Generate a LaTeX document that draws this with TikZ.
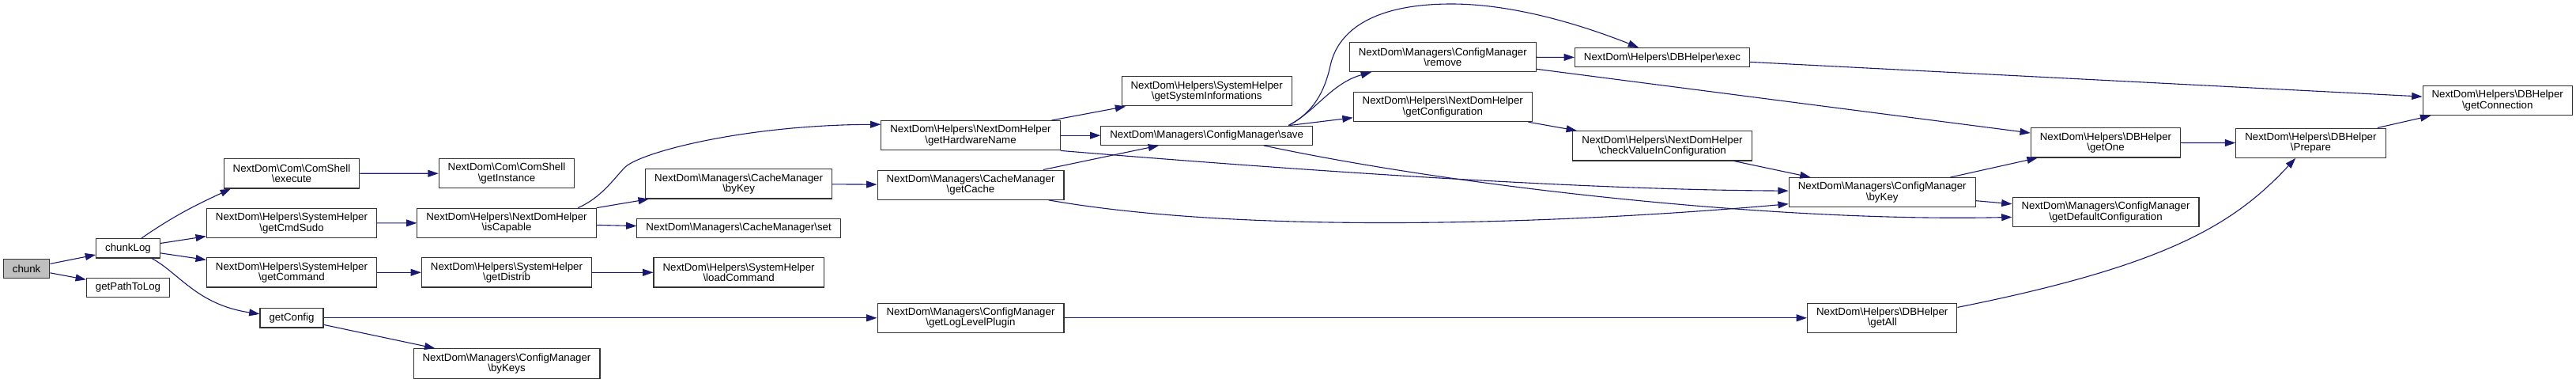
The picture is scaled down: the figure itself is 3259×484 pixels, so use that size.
\documentclass[tikz,border=0pt]{standalone}
\usepackage{fontspec}
\setmainfont{Liberation Sans}
\usepackage{tikz}
\usetikzlibrary{arrows.meta}
\definecolor{edgeblue}{RGB}{25,25,112}
\definecolor{rootgray}{RGB}{191,191,191}
\newcommand{\bsl}{\textbackslash}

\begin{document}
\begin{tikzpicture}[x=1pt,y=-1pt,
    fn/.style={draw=black!80,fill=white,line width=1.1pt,
      font=\fontsize{13.3}{13.3}\selectfont,align=center,
      inner xsep=11.5pt,inner ysep=0pt,minimum height=37.3pt},
    fnone/.style={fn,minimum height=24.3pt},
    call/.style={draw=edgeblue,line width=1.1pt,
      -{Triangle[length=13.3pt,width=8.9pt]}}
  ]
    \useasboundingbox (0,0) rectangle (3259,484);

    \node[fnone,fill=rootgray] (chunk) at (33.6,339.3) {chunk};
    \node[fnone] (chunkLog) at (162,313.8) {chunkLog};
    \node[fnone] (getPathToLog) at (162,363.2) {getPathToLog};

    \node[fn] (comExecute) at (369,219.3) {NextDom\bsl Com\bsl ComShell\\\bsl execute};
    \node[fn] (getCmdSudo) at (369,282) {NextDom\bsl Helpers\bsl SystemHelper\\\bsl getCmdSudo};
    \node[fn] (getCommand) at (369,344.3) {NextDom\bsl Helpers\bsl SystemHelper\\\bsl getCommand};
    \node[fnone] (getConfig) at (369,401.8) {getConfig};

    \node[fn] (getInstance) at (641,219.2) {NextDom\bsl Com\bsl ComShell\\\bsl getInstance};
    \node[fn] (isCapable) at (641,281.8) {NextDom\bsl Helpers\bsl NextDomHelper\\\bsl isCapable};
    \node[fn] (getDistrib) at (641,344.3) {NextDom\bsl Helpers\bsl SystemHelper\\\bsl getDistrib};
    \node[fn] (byKeys) at (641,459.4) {NextDom\bsl Managers\bsl ConfigManager\\\bsl byKeys};

    \node[fn] (cacheByKey) at (934.6,232.3) {NextDom\bsl Managers\bsl CacheManager\\\bsl byKey};
    \node[fnone] (cacheSet) at (934.6,288.5) {NextDom\bsl Managers\bsl CacheManager\bsl set};
    \node[fn] (loadCommand) at (934.6,344.3) {NextDom\bsl Helpers\bsl SystemHelper\\\bsl loadCommand};

    \node[fn] (getHardware) at (1228,171.2) {NextDom\bsl Helpers\bsl NextDomHelper\\\bsl getHardwareName};
    \node[fn] (getCache) at (1228,233.7) {NextDom\bsl Managers\bsl CacheManager\\\bsl getCache};
    \node[fn] (getLogLevel) at (1228,401.8) {NextDom\bsl Managers\bsl ConfigManager\\\bsl getLogLevelPlugin};

    \node[fn] (sysInfo) at (1526.7,115.3) {NextDom\bsl Helpers\bsl SystemHelper\\\bsl getSystemInformations};
    \node[fnone] (save) at (1526.7,171.2) {NextDom\bsl Managers\bsl ConfigManager\bsl save};

    \node[fn] (remove) at (1825.3,72) {NextDom\bsl Managers\bsl ConfigManager\\\bsl remove};
    \node[fn] (getConfiguration) at (1825.3,135) {NextDom\bsl Helpers\bsl NextDomHelper\\\bsl getConfiguration};

    \node[fnone] (dbExec) at (2103,72.7) {NextDom\bsl Helpers\bsl DBHelper\bsl exec};
    \node[fn] (checkValue) at (2103,184.3) {NextDom\bsl Helpers\bsl NextDomHelper\\\bsl checkValueInConfiguration};

    \node[fn] (cfgByKey) at (2381.2,243.2) {NextDom\bsl Managers\bsl ConfigManager\\\bsl byKey};
    \node[fn] (getAll) at (2381.2,401.8) {NextDom\bsl Helpers\bsl DBHelper\\\bsl getAll};

    \node[fn] (getOne) at (2664,180.3) {NextDom\bsl Helpers\bsl DBHelper\\\bsl getOne};
    \node[fn] (getDefault) at (2664,268.2) {NextDom\bsl Managers\bsl ConfigManager\\\bsl getDefaultConfiguration};

    \node[fn] (prepare) at (2923.4,180.7) {NextDom\bsl Helpers\bsl DBHelper\\\bsl Prepare};
    \node[fn] (getConnection) at (3159.7,127) {NextDom\bsl Helpers\bsl DBHelper\\\bsl getConnection};

    \draw[call] (chunk) -- (chunkLog);
    \draw[call] (chunk) -- (getPathToLog);
    \draw[call] (chunkLog.37) .. controls (219.9,272.8) and (246.6,259.7) .. (comExecute.194);
    \draw[call] (chunkLog) -- (getCmdSudo);
    \draw[call] (chunkLog) -- (getCommand);
    \draw[call] (chunkLog.-23) .. controls (226,344.5) and (249,385) .. (getConfig.173);
    \draw[call] (comExecute) -- (getInstance);
    \draw[call] (getCmdSudo) -- (isCapable);
    \draw[call] (getCommand) -- (getDistrib);
    \draw[call] (getConfig) -- (getLogLevel);
    \draw[call] (getConfig) -- (byKeys);
    \draw[call] (isCapable.12) .. controls (760,250) and (775,228) .. (790,212)
      .. controls (808,193) and (940,158) .. (getHardware.173);
    \draw[call] (isCapable) -- (cacheByKey);
    \draw[call] (isCapable) -- (cacheSet);
    \draw[call] (getDistrib) -- (loadCommand);
    \draw[call] (cacheByKey) -- (getCache);
    \draw[call] (getHardware) -- (sysInfo);
    \draw[call] (getHardware) -- (save);
    \draw[call] (getHardware.south east) .. controls (1640,215) and (2000,240) .. (cfgByKey.179);
    \draw[call] (getCache) -- (save);
    \draw[call] (getCache.-11) .. controls (1573,296) and (1964,284) .. (cfgByKey.187);
    \draw[call] (getLogLevel) -- (getAll);
    \draw[call] (save.7) .. controls (1662,142) and (1676,115) .. (1683,83)
      .. controls (1693,37) and (1740,5) .. (1836,5)
      .. controls (1920,5) and (2010,35) .. (dbExec.157);
    \draw[call] (save.7) .. controls (1665,140) and (1685,105) .. (remove.192);
    \draw[call] (save) -- (getConfiguration);
    \draw[call] (save.-10) .. controls (1843,236) and (2246,281) .. (getDefault.183);
    \draw[call] (remove) -- (dbExec);
    \draw[call] (remove) -- (getOne);
    \draw[call] (getConfiguration) -- (checkValue);
    \draw[call] (dbExec) -- (getConnection);
    \draw[call] (checkValue) -- (cfgByKey);
    \draw[call] (cfgByKey) -- (getOne);
    \draw[call] (cfgByKey) -- (getDefault);
    \draw[call] (getAll.8) .. controls (2740.5,335.7) and (2825.9,284.1) .. (prepare.225);
    \draw[call] (getOne) -- (prepare);
    \draw[call] (prepare) -- (getConnection);
  \end{tikzpicture}
\end{document}
